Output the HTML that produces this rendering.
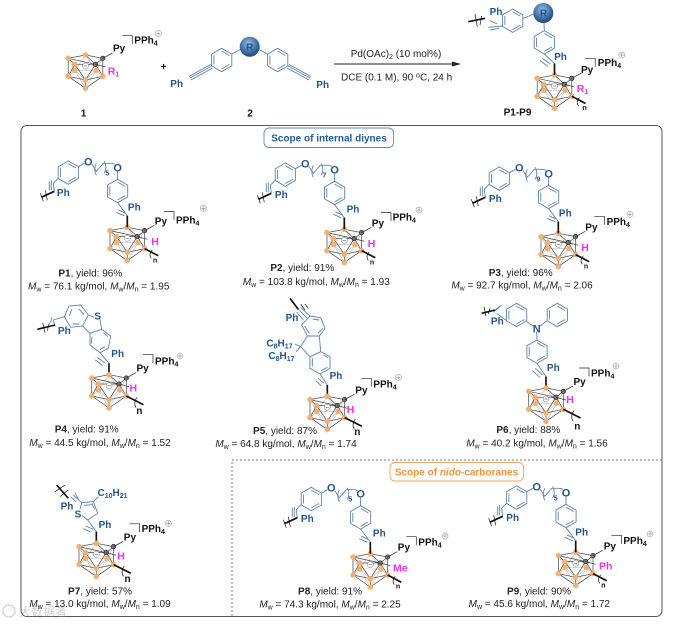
<!DOCTYPE html>
<html><head><meta charset="utf-8"><style>
html,body{margin:0;padding:0;background:#fff}
svg{display:block;filter:blur(.3px)}
text{font-family:"Liberation Sans","Noto Sans CJK SC",sans-serif;font-size:10px}
.cap{fill:#222;text-anchor:middle}
.k{font-weight:bold;fill:#111}
.b{font-weight:bold;fill:#24548a;text-anchor:middle}
.o{font-weight:bold;fill:#24548a;text-anchor:middle;font-size:11px}
.m{font-weight:bold;fill:#f02ff0;text-anchor:middle;font-size:10.5px}
.ln{fill:none;stroke:#5f82a8;stroke-width:.9}
.sk{fill:none;stroke:#5f82a8;stroke-width:2.7}
.bk{fill:none;stroke:#111;stroke-width:1.7}
.bk3{fill:none;stroke:#111;stroke-width:5}
.th{fill:none;stroke:#111;stroke-width:.7}
.th3{fill:none;stroke:#111;stroke-width:2.1}
</style></head><body>
<svg width="693" height="627" viewBox="0 0 693 627" xmlns="http://www.w3.org/2000/svg">
<defs>
<radialGradient id="bl" cx=".45" cy=".35" r=".7"><stop offset="0" stop-color="#9dbfe0"/><stop offset=".6" stop-color="#3d6fa5"/><stop offset="1" stop-color="#173f73"/></radialGradient>
<g id="cage">
<path d="M0 0L-10.7 15.3M0 0L10.7 15.3M-10.7 15.3L10.7 15.3M-10.7 15.3L-17.3 21.3M-10.7 15.3L0 25M10.7 15.3L0 25M10.7 15.3L17.3 21.3M-10.7 15.3L0 33.3M10.7 15.3L0 33.3M-17.3 3.3L-10.7 15.3M17.3 3.3L10.7 15.3" fill="none" stroke="#bbb" stroke-width=".6"/>
<path d="M0 0L-17.3 3.3M0 0L17.3 3.3M0 0L10 9.3M-17.3 3.3L10 9.3M-17.3 3.3L-10.7 9.3M-10.7 9.3L10 9.3M-17.3 3.3L-17.3 21.3M-17.3 21.3L0 33.3M0 33.3L17.3 21.3M17.3 21.3L17.3 3.3M17.3 3.3L10 9.3M10 9.3L17.3 21.3M-17.3 21.3L0 25M0 25L17.3 21.3M0 25L0 33.3M-10.7 9.3L-17.3 21.3M-10.7 9.3L0 25M10 9.3L0 25" fill="none" stroke="#444" stroke-width=".7"/>
<g fill="#f6b072" stroke="#eb9c52" stroke-width=".4">
<circle cx="0" cy="0" r="2.5"/><circle cx="-17.3" cy="3.3" r="2.5"/><circle cx="-10.7" cy="9.3" r="2.5"/><circle cx="-10.7" cy="15.3" r="2.5"/><circle cx="10.7" cy="15.3" r="2.5"/><circle cx="-17.3" cy="21.3" r="2.5"/><circle cx="17.3" cy="21.3" r="2.5"/><circle cx="0" cy="25" r="2.5"/><circle cx="0" cy="33.3" r="2.5"/>
</g>
<g fill="#777" stroke="#222" stroke-width=".7"><circle cx="17.3" cy="3.3" r="2.2"/><circle cx="10" cy="9.3" r="2.2"/></g>
<circle cx="0" cy="11" r="3" fill="#fff" stroke="#666" stroke-width=".5"/><path d="M-1.6 11H1.6" stroke="#555" stroke-width=".6"/>
<path d="M17.3 3.3L27 -2" stroke="#333" stroke-width=".8" fill="none"/>
<path d="M10 9.3L20 12" stroke="#333" stroke-width=".7" fill="none"/>
</g>
<g id="brk"><path d="M-10 0H0V8.5" fill="none" stroke="#222" stroke-width=".7"/></g>
<g id="op"><circle r="3" fill="#fff" stroke="#777" stroke-width=".5"/><path d="M-2 0H2M0 -2V2" stroke="#777" stroke-width=".5"/></g>
<g id="ring" class="ln"><path d="M0 -11.7L10.1 -5.85V5.85L0 11.7L-10.1 5.85V-5.85Z"/><path d="M-7.8 -4.5V4.5M0 8.9L7.7 4.5M0 -8.9L7.7 -4.5"/></g>
<g id="tailS"><path class="bk" d="M17.3 21.3L31 28.5"/><path class="th" d="M25 22.5Q21 27 24 31"/></g>
<g id="tailL"><path class="bk" d="M17.3 21.3L34.5 30"/><path class="th" d="M28 22.5Q24 28 27 33"/></g>
<g id="bold"><path class="bk" d="M0 0V-11.7"/></g>
<g id="link">
<use href="#bold"/>
<use href="#ring" x="-9.7" y="-36.3"/>
<use href="#ring" x="-59" y="-54.7"/>
<path class="ln" d="M0 -11.7L-9.7 -24.6M-1.5 -14L-9 -17.5M-3 -11.5L-11 -15M-49 -60.5L-43 -64M-9.7 -48V-56M-35.5 -63L-31 -56L-24 -64H-15L-12.5 -63"/>
<path class="ln" d="M-31 -64Q-34 -58 -31 -52M-23 -66Q-20 -60 -23 -54"/>
<path class="ln" d="M-69.2 -49L-74 -44L-73 -36M-76 -47V-37M-78 -46V-37"/>
<path class="bk" d="M-86 -30L-73 -36"/>
<path class="th" d="M-82 -37L-80 -27M-87 -34L-84 -26"/>
</g>
</defs>

<!-- frame -->
<rect x="21" y="125.5" width="641" height="491" rx="6" fill="none" stroke="#555" stroke-width="1"/>
<path d="M232 616V460H662" fill="none" stroke="#555" stroke-width=".8" stroke-dasharray="2 2"/>
<rect x="264" y="128" width="129.500" height="19.500" rx="5" fill="#fff" stroke="#5c8db8" stroke-width=".9"/>
<text x="329" y="141.500" text-anchor="middle" font-weight="bold" fill="#1f5b99">Scope of internal diynes</text>
<rect x="390" y="462.500" width="133.500" height="18.500" rx="5" fill="#fff" stroke="#f0a765" stroke-width=".9"/>
<text x="456.500" y="475.500" text-anchor="middle" font-weight="bold" fill="#f0923b">Scope of <tspan font-style="italic">nido</tspan>-carboranes</text>

<!-- reaction -->
<path d="M334 64H455" stroke="#222" stroke-width=".9"/><path d="M461 64L452 61.500V66.500Z" fill="#222"/>
<text x="396" y="57" text-anchor="middle" fill="#222">Pd(OAc)<tspan dy="2" font-size="7">2</tspan><tspan dy="-2"> (10 mol%)</tspan></text>
<text x="341" y="80.500" fill="#222">DCE (0.1 M), 90 <tspan dy="-3" font-size="7">o</tspan><tspan dy="3">C, 24 h</tspan></text>
<text x="163.500" y="70" text-anchor="middle" class="k">+</text>

<!-- compound 1 -->
<g transform="translate(85.5,55)">
<use href="#cage"/>
<text x="27.500" y="-3.500" class="k">Py</text>
<use href="#brk" x="46.800" y="-19.300"/>
<text x="48.800" y="-11.700" class="k">PPh<tspan dy="2" font-size="7">4</tspan></text>
<use href="#op" x="72.800" y="-21.700"/>
<text x="28" y="19.500" class="m">R<tspan dy="2" font-size="7">1</tspan></text>
</g>
<text x="83.500" y="116.500" text-anchor="middle" class="k">1</text>

<!-- compound 2 -->
<use href="#ring" x="221.700" y="60"/><use href="#ring" x="277.700" y="60"/>
<path class="ln" d="M231.800 54L241 49M267.600 54L258 49M211.700 66L190 78M212.700 68L191 80M210.700 64.500L189 76.500M288 66L310 78M287 68L309 80M289 64.500L311 76.500"/>
<circle cx="249.700" cy="46.700" r="10" fill="url(#bl)"/>
<text x="249.700" y="50.500" class="b" fill="#123c6d">R</text>
<text x="176.700" y="87" class="b">Ph</text><text x="322.700" y="88" class="b">Ph</text>
<text x="250" y="116.500" text-anchor="middle" class="k">2</text>

<!-- P1-P9 -->
<g transform="translate(554.5,75)">
<use href="#cage"/><use href="#bold"/>
<text x="26.500" y="-2" class="k">Py</text>
<use href="#brk" x="40.700" y="-16.700"/>
<text x="43.300" y="-9" class="k">PPh<tspan dy="2" font-size="7">4</tspan></text>
<use href="#op" x="67.300" y="-20"/>
<text x="28" y="17" class="m">R<tspan dy="2" font-size="7">1</tspan></text>
<use href="#tailS"/><text x="30" y="35" class="k" font-size="7.500" style="font-size:7.500px" text-anchor="middle">n</text>
</g>
<g transform="translate(440,0) scale(.3333)">
<use href="#ring" transform="translate(218,62) scale(3)"/>
<use href="#ring" transform="translate(313,127) scale(3)"/>
<path class="sk" d="M250 55L282 42M312 68L313 92M313 162L343 190M307 175L331 192M300 182L324 199M188 78L145 82M172 72L150 62M178 85L150 90"/>
<path class="bk3" d="M85 65L135 55"/><path class="th3" d="M105 42L112 80M125 48L120 75"/>
</g>
<circle cx="543.300" cy="13" r="10" fill="url(#bl)"/>
<text x="543.500" y="16.500" class="b">R</text>
<text x="496" y="15" class="b">Ph</text><text x="560.500" y="60" class="b">Ph</text>
<text x="517.500" y="115.700" text-anchor="middle" class="k">P1-P9</text>

<!-- P1 -->
<g transform="translate(127.3,227.3)">
<use href="#cage"/><use href="#link"/>
<text x="7" y="-17" class="b">Ph</text><text x="-64" y="-31.500" class="b">Ph</text>
<text x="-39" y="-62" class="o">O</text><text x="-9.700" y="-56" class="o">O</text>
<text x="-20" y="-52" class="b" style="font-size:7px">5</text>
<text x="27.500" y="-3" class="k">Py</text><use href="#brk" x="46.700" y="-15.700"/>
<text x="48.700" y="-4" class="k">PPh<tspan dy="2" font-size="7">4</tspan></text><use href="#op" x="76" y="-19"/>
<text x="27.700" y="17.500" class="m">H</text>
<use href="#tailS"/><text x="27.700" y="35" class="k" text-anchor="middle" style="font-size:7px">n</text>
</g>
<text x="90.300" y="276.500" class="cap"><tspan font-weight="bold">P1</tspan>, yield: 96%</text>
<text x="98.700" y="289.500" class="cap"><tspan font-style="italic">M</tspan><tspan dy="2" font-size="7">w</tspan><tspan dy="-2"> = 76.1 kg/mol, </tspan><tspan font-style="italic">M</tspan><tspan dy="2" font-size="7">w</tspan><tspan dy="-2">/</tspan><tspan font-style="italic">M</tspan><tspan dy="2" font-size="7">n</tspan><tspan dy="-2"> = 1.95</tspan></text>

<!-- P2 -->
<g transform="translate(344.3,229.3)">
<use href="#cage"/><use href="#link"/>
<text x="8.700" y="-17" class="b">Ph</text><text x="-63" y="-31.500" class="b">Ph</text>
<text x="-39" y="-62" class="o">O</text><text x="-9.700" y="-56" class="o">O</text>
<text x="-20" y="-52" class="b" style="font-size:7px">7</text>
<text x="27.500" y="-3" class="k">Py</text><use href="#brk" x="46.700" y="-16.700"/>
<text x="48.300" y="-8.700" class="k">PPh<tspan dy="2" font-size="7">4</tspan></text><use href="#op" x="74.700" y="-19.300"/>
<text x="27.300" y="17.700" class="m">H</text>
<use href="#tailS"/><text x="27.700" y="35" class="k" text-anchor="middle" style="font-size:7px">n</text>
</g>
<text x="302.300" y="271" class="cap"><tspan font-weight="bold">P2</tspan>, yield: 91%</text>
<text x="316.300" y="285" class="cap"><tspan font-style="italic">M</tspan><tspan dy="2" font-size="7">w</tspan><tspan dy="-2"> = 103.8 kg/mol, </tspan><tspan font-style="italic">M</tspan><tspan dy="2" font-size="7">w</tspan><tspan dy="-2">/</tspan><tspan font-style="italic">M</tspan><tspan dy="2" font-size="7">n</tspan><tspan dy="-2"> = 1.93</tspan></text>

<!-- P3 -->
<g transform="translate(558.3,233.3)">
<use href="#cage"/><use href="#link"/>
<text x="7" y="-17" class="b">Ph</text><text x="-63" y="-31.500" class="b">Ph</text>
<text x="-39" y="-62" class="o">O</text><text x="-9.700" y="-56" class="o">O</text>
<text x="-20" y="-52" class="b" style="font-size:7px">9</text>
<text x="27" y="-3" class="k">Py</text><use href="#brk" x="46" y="-17"/>
<text x="48.300" y="-8.300" class="k">PPh<tspan dy="2" font-size="7">4</tspan></text><use href="#op" x="71.700" y="-19"/>
<text x="26.700" y="17.700" class="m">H</text>
<use href="#tailS"/><text x="27.700" y="35" class="k" text-anchor="middle" style="font-size:7px">n</text>
</g>
<text x="520.700" y="276" class="cap"><tspan font-weight="bold">P3</tspan>, yield: 96%</text>
<text x="522" y="288.500" class="cap"><tspan font-style="italic">M</tspan><tspan dy="2" font-size="7">w</tspan><tspan dy="-2"> = 92.7 kg/mol, </tspan><tspan font-style="italic">M</tspan><tspan dy="2" font-size="7">w</tspan><tspan dy="-2">/</tspan><tspan font-style="italic">M</tspan><tspan dy="2" font-size="7">n</tspan><tspan dy="-2"> = 2.06</tspan></text>

<!-- P4 -->
<g transform="translate(20,300) scale(.3333)">
<path class="sk" d="M133 50L147 18L182 15L205 45L188 78L152 82ZM148 48L155 28M176 26L192 44M178 72L158 72M210 100L245 88L272 108L265 145L240 158L210 135ZM216 110L214 130M250 98L264 110M256 140L240 148M188 78L210 100M205 45L222 52M240 58L245 88M240 158L267 190M232 172L256 190M226 180L248 197M133 50L100 60L105 78M95 52L92 68"/>
<path class="bk3" d="M52 88L105 75M267 190V224"/><path class="th3" d="M68 68L75 98M88 68L82 92"/>
</g>
<text x="97.700" y="319.500" class="b">S</text>
<text x="64.300" y="334" class="b">Ph</text><text x="117.700" y="357" class="b">Ph</text>
<g transform="translate(109,374.7)">
<use href="#cage"/>
<text x="27.500" y="-3" class="k">Py</text><use href="#brk" x="44" y="-20"/>
<text x="46" y="-10.400" class="k">PPh<tspan dy="2" font-size="7">4</tspan></text><use href="#op" x="71" y="-18.700"/>
<text x="24.300" y="16.700" class="m">H</text>
<use href="#tailL"/><text x="30.300" y="39.500" class="k" text-anchor="middle">n</text>
</g>
<text x="86.700" y="432.700" class="cap"><tspan font-weight="bold">P4</tspan>, yield: 91%</text>
<text x="100" y="446" class="cap"><tspan font-style="italic">M</tspan><tspan dy="2" font-size="7">w</tspan><tspan dy="-2"> = 44.5 kg/mol, </tspan><tspan font-style="italic">M</tspan><tspan dy="2" font-size="7">w</tspan><tspan dy="-2">/</tspan><tspan font-style="italic">M</tspan><tspan dy="2" font-size="7">n</tspan><tspan dy="-2"> = 1.52</tspan></text>

<!-- P5 -->
<g transform="translate(230,300) scale(.3333)">
<path class="sk" d="M240 48L272 53L285 85L268 108L232 108L215 75ZM248 57L268 60M278 85L264 100M238 100L224 78M272 155L300 170L300 205L270 222L240 205L240 170ZM280 165L294 173M292 202L272 213M247 200L247 175M232 108L212 140L240 170M268 108L272 155M212 140L195 132M212 140L198 155M270 222L292 255M265 235L282 250M258 242L274 258M240 48L212 22M232 55L205 28M220 60L200 36"/>
<path class="bk3" d="M292 255V289M180 -5L205 28"/><path class="th3" d="M212 12L225 30M225 12L235 26"/>
</g>
<text x="292" y="321" class="b">Ph</text>
<text x="279.500" y="346.500" class="b">C<tspan dy="2" font-size="7">8</tspan><tspan dy="-2">H</tspan><tspan dy="2" font-size="7">17</tspan></text>
<text x="281.500" y="359" class="b">C<tspan dy="2" font-size="7">8</tspan><tspan dy="-2">H</tspan><tspan dy="2" font-size="7">17</tspan></text>
<text x="336" y="379" class="b">Ph</text>
<g transform="translate(327.3,396.3)">
<use href="#cage"/>
<text x="28" y="-3" class="k">Py</text><use href="#brk" x="44" y="-18"/>
<text x="46" y="-9" class="k">PPh<tspan dy="2" font-size="7">4</tspan></text><use href="#op" x="71" y="-19"/>
<text x="23.300" y="16.700" class="m">H</text>
<use href="#tailL"/><text x="30" y="38.500" class="k" text-anchor="middle">n</text>
</g>
<text x="285" y="434" class="cap"><tspan font-weight="bold">P5</tspan>, yield: 87%</text>
<text x="286" y="447" class="cap"><tspan font-style="italic">M</tspan><tspan dy="2" font-size="7">w</tspan><tspan dy="-2"> = 64.8 kg/mol, </tspan><tspan font-style="italic">M</tspan><tspan dy="2" font-size="7">w</tspan><tspan dy="-2">/</tspan><tspan font-style="italic">M</tspan><tspan dy="2" font-size="7">n</tspan><tspan dy="-2"> = 1.74</tspan></text>

<!-- P6 -->
<g transform="translate(460,300) scale(.3333)">
<use href="#ring" transform="translate(170,45) scale(3)"/>
<use href="#ring" transform="translate(292,45) scale(3)"/>
<use href="#ring" transform="translate(231,155) scale(3)"/>
<path class="sk" d="M200 65L222 80M262 62L238 80M230 95L231 120M231 190L258 230M225 205L248 225M217 212L240 232M140 62L110 40M125 15L105 30M118 22L100 36"/>
<path class="bk3" d="M65 40L105 30M258 230V264"/><path class="th3" d="M72 20L78 48M90 25L85 42"/>
</g>
<text x="536.700" y="332.500" class="o">N</text>
<text x="497.300" y="324.500" class="b">Ph</text><text x="553.300" y="371" class="b">Ph</text>
<g transform="translate(546,388)">
<use href="#cage"/>
<text x="27.500" y="-3" class="k">Py</text><use href="#brk" x="43" y="-20"/>
<text x="45" y="-11.300" class="k">PPh<tspan dy="2" font-size="7">4</tspan></text><use href="#op" x="70" y="-22"/>
<text x="24" y="15" class="m">H</text>
<use href="#tailL"/><text x="31.300" y="41.500" class="k" text-anchor="middle">n</text>
</g>
<text x="528.300" y="433" class="cap"><tspan font-weight="bold">P6</tspan>, yield: 88%</text>
<text x="537" y="446.700" class="cap"><tspan font-style="italic">M</tspan><tspan dy="2" font-size="7">w</tspan><tspan dy="-2"> = 40.2 kg/mol, </tspan><tspan font-style="italic">M</tspan><tspan dy="2" font-size="7">w</tspan><tspan dy="-2">/</tspan><tspan font-style="italic">M</tspan><tspan dy="2" font-size="7">n</tspan><tspan dy="-2"> = 1.56</tspan></text>

<!-- P7 -->
<g transform="translate(20,450) scale(.3333)">
<path class="sk" d="M180 178L185 158L220 155L233 190L203 210L186 197M192 166L216 164M224 178L216 160M220 155L235 140M185 158L160 135M175 148L165 128M168 155L152 140M203 210L229 245M197 228L220 238M190 236L212 246"/>
<path class="bk3" d="M110 105L145 145M229 245V280"/><path class="th3" d="M105 125L135 105M120 140L145 120"/>
</g>
<text x="67" y="509.500" class="b">Ph</text>
<text x="78" y="517.500" class="b">S</text>
<text x="112.500" y="496" class="b">C<tspan dy="2" font-size="7">10</tspan><tspan dy="-2">H</tspan><tspan dy="2" font-size="7">21</tspan></text>
<text x="105" y="528" class="b">Ph</text>
<g transform="translate(96.3,543.3)">
<use href="#cage"/>
<text x="27.500" y="-3" class="k">Py</text><use href="#brk" x="43.300" y="-19.500"/>
<text x="45.300" y="-11.300" class="k">PPh<tspan dy="2" font-size="7">4</tspan></text><use href="#op" x="72" y="-20"/>
<text x="24.700" y="16.400" class="m">H</text>
<use href="#tailL"/><text x="31.300" y="38.500" class="k" text-anchor="middle">n</text>
</g>
<text x="100" y="594.700" class="cap"><tspan font-weight="bold">P7</tspan>, yield: 57%</text>
<text x="100" y="607" class="cap"><tspan font-style="italic">M</tspan><tspan dy="2" font-size="7">w</tspan><tspan dy="-2"> = 13.0 kg/mol, </tspan><tspan font-style="italic">M</tspan><tspan dy="2" font-size="7">w</tspan><tspan dy="-2">/</tspan><tspan font-style="italic">M</tspan><tspan dy="2" font-size="7">n</tspan><tspan dy="-2"> = 1.09</tspan></text>

<!-- P8 -->
<g transform="translate(370.3,553.7)">
<use href="#cage"/><use href="#link"/>
<text x="9" y="-17" class="b">Ph</text><text x="-63" y="-31.500" class="b">Ph</text>
<text x="-39" y="-62" class="o">O</text><text x="-9.700" y="-56" class="o">O</text>
<text x="-20" y="-52" class="b" style="font-size:7px">5</text>
<text x="27.500" y="-3" class="k">Py</text><use href="#brk" x="46" y="-17"/>
<text x="48" y="-8" class="k">PPh<tspan dy="2" font-size="7">4</tspan></text><use href="#op" x="74.700" y="-17.700"/>
<text x="30" y="17.700" class="m">Me</text>
<use href="#tailS"/><text x="27.700" y="35" class="k" text-anchor="middle" style="font-size:7px">n</text>
</g>
<text x="330" y="594.700" class="cap"><tspan font-weight="bold">P8</tspan>, yield: 91%</text>
<text x="330" y="607.300" class="cap"><tspan font-style="italic">M</tspan><tspan dy="2" font-size="7">w</tspan><tspan dy="-2"> = 74.3 kg/mol, </tspan><tspan font-style="italic">M</tspan><tspan dy="2" font-size="7">w</tspan><tspan dy="-2">/</tspan><tspan font-style="italic">M</tspan><tspan dy="2" font-size="7">n</tspan><tspan dy="-2"> = 2.25</tspan></text>

<!-- P9 -->
<g transform="translate(575.7,552.3)">
<use href="#cage"/><use href="#link"/>
<text x="6" y="-17" class="b">Ph</text><text x="-63" y="-31.500" class="b">Ph</text>
<text x="-39" y="-62" class="o">O</text><text x="-9.700" y="-56" class="o">O</text>
<text x="-20" y="-52" class="b" style="font-size:7px">5</text>
<text x="28" y="-3" class="k">Py</text><use href="#brk" x="45.700" y="-17"/>
<text x="47.700" y="-8.300" class="k">PPh<tspan dy="2" font-size="7">4</tspan></text><use href="#op" x="74.300" y="-18.300"/>
<text x="30" y="17.400" class="m">Ph</text>
<use href="#tailS"/><text x="27.700" y="35" class="k" text-anchor="middle" style="font-size:7px">n</text>
</g>
<text x="539" y="594.700" class="cap"><tspan font-weight="bold">P9</tspan>, yield: 90%</text>
<text x="539.300" y="607" class="cap"><tspan font-style="italic">M</tspan><tspan dy="2" font-size="7">w</tspan><tspan dy="-2"> = 45.6 kg/mol, </tspan><tspan font-style="italic">M</tspan><tspan dy="2" font-size="7">w</tspan><tspan dy="-2">/</tspan><tspan font-style="italic">M</tspan><tspan dy="2" font-size="7">n</tspan><tspan dy="-2"> = 1.72</tspan></text>

<!-- watermark -->
<g opacity=".45"><circle cx="9" cy="611" r="6" fill="none" stroke="#aaa" stroke-width="1.500"/>
<text x="19" y="616" fill="#999" style="font-size:12px">大数据者</text></g>
</svg>
</body></html>
